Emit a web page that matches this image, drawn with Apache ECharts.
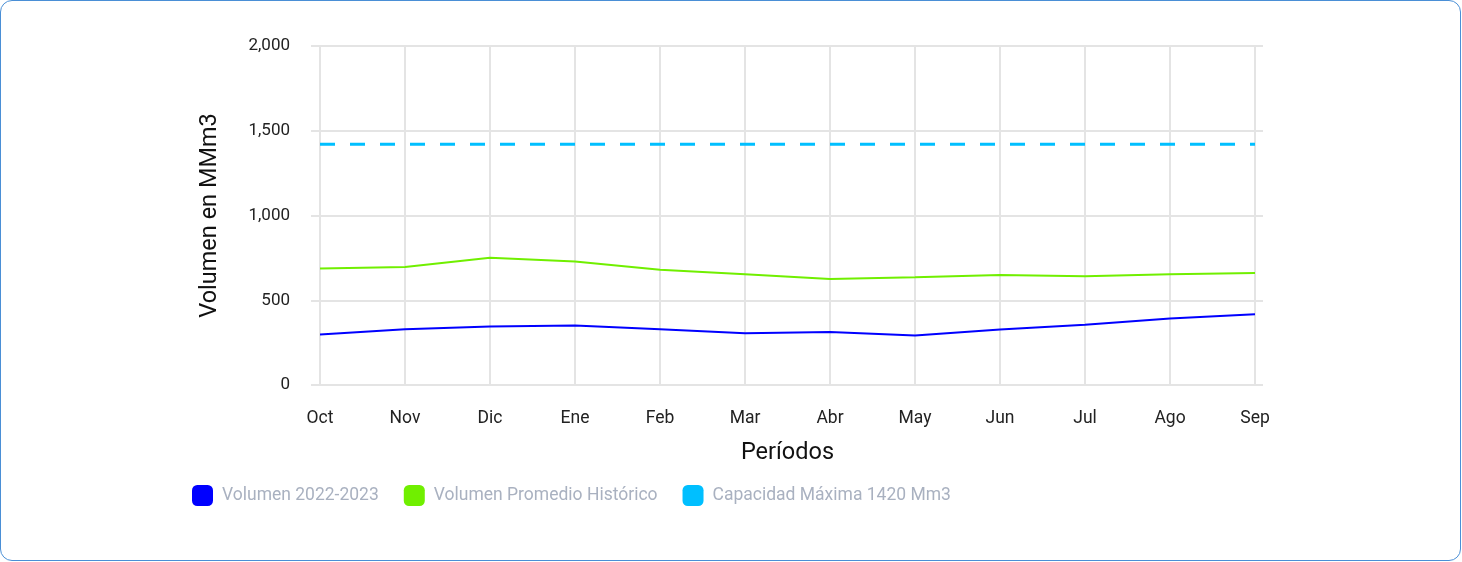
<!DOCTYPE html>
<html>
<head>
<meta charset="utf-8">
<script src="https://cdn.jsdelivr.net/npm/echarts@6/dist/echarts.min.js"></script>
<style>
  html, body { margin: 0; padding: 0; background: #fff; }
  #box {
    position: absolute; left: 0; top: 0;
    width: 1459px; height: 559px;
    border: 1.5px solid #4a8fd6; border-radius: 12px;
    overflow: hidden;
  }
  #chart { width: 1462px; height: 562px; position: absolute; left: -1px; top: -1px; }
</style>
</head>
<body>
<div id="box"><div id="chart"></div></div>
<script>
// meses del periodo hidrológico
const periodos = ['Oct', 'Nov', 'Dic', 'Ene', 'Feb', 'Mar', 'Abr', 'May', 'Jun', 'Jul', 'Ago', 'Sep'];
// volumen 2022-2023 (MMm3)
const volumenActual = [298, 329, 345, 351, 329, 306, 312, 292, 327, 355, 392, 418];
// volumen promedio histórico
const volumenPromedio = [688, 696, 751, 729, 680, 653, 625, 635, 649, 641, 653, 661];
// capacidad máxima
const capacidadMax = 1420;
const capacidad = periodos.map(() => capacidadMax);

const gridColor = '#e4e4e4';
const chart = echarts.init(document.getElementById('chart'));

const option = {
  textStyle: { fontFamily: 'Roboto' },
  animation: false,
  grid: { left: 320, right: 207, top: 46, bottom: 177 },
  legend: {
    left: 192, top: 485, padding: 0,
    itemWidth: 21, itemHeight: 21, itemGap: 25,
    icon: 'roundRect',
    textStyle: { color: '#a9b1c0', fontSize: 17.5, fontFamily: 'Roboto', padding: [0, 0, 0, 4] },
    data: ['Volumen 2022-2023', 'Volumen Promedio Histórico', 'Capacidad Máxima 1420 Mm3']
  },
  xAxis: {
    type: 'category',
    data: periodos,
    boundaryGap: false,
    name: 'Períodos',
    nameLocation: 'middle',
    nameGap: 56,
    nameTextStyle: { fontSize: 23.5, color: '#111' },
    axisLine: { show: false },
    axisTick: { show: false },
    axisLabel: { margin: 25, fontSize: 17.5, color: '#222' },
    splitLine: { show: true, lineStyle: { color: gridColor, width: 2 } }
  },
  yAxis: [
    {
      type: 'value',
      min: 0, max: 2000, interval: 500,
      name: 'Volumen en MMm3',
      nameLocation: 'middle',
      nameGap: 98,
      nameTextStyle: { fontSize: 23.5, color: '#111' },
      axisLine: { show: false },
      axisTick: { show: true, length: 9, lineStyle: { color: gridColor, width: 2 } },
      axisLabel: {
        margin: 30, fontSize: 17, color: '#222', padding: [6, 0, 0, 0],
        formatter: v => v.toLocaleString('en-US')
      },
      splitLine: { lineStyle: { color: gridColor, width: 2 } }
    },
    {
      // solo para prolongar las líneas de la rejilla a la derecha
      type: 'value',
      position: 'right',
      min: 0, max: 2000, interval: 500,
      axisLine: { show: false },
      axisTick: { show: true, length: 8, lineStyle: { color: gridColor, width: 2 } },
      axisLabel: { show: false },
      splitLine: { show: false }
    }
  ],
  series: [
    {
      name: 'Volumen 2022-2023',
      type: 'line',
      data: volumenActual,
      color: '#0000ff',
      symbol: 'none',
      lineStyle: { width: 2 }
    },
    {
      name: 'Volumen Promedio Histórico',
      type: 'line',
      data: volumenPromedio,
      color: '#70ef00',
      symbol: 'none',
      lineStyle: { width: 2 }
    },
    {
      name: 'Capacidad Máxima 1420 Mm3',
      type: 'line',
      data: capacidad,
      color: '#00bfff',
      symbol: 'none',
      lineStyle: { width: 3, type: [15, 15] }
    }
  ]
};
chart.setOption(option);
</script>
</body>
</html>
